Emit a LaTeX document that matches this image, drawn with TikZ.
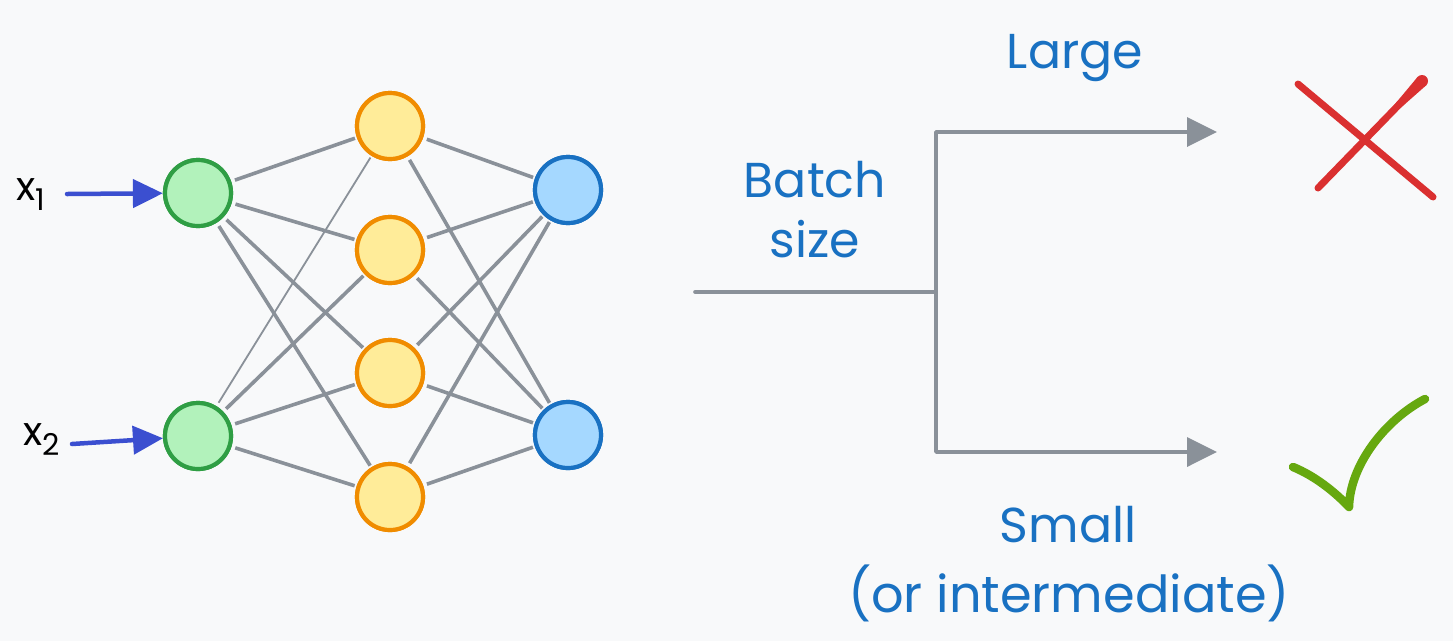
\documentclass[tikz,border=0pt]{standalone}
\usepackage{fontspec}
\setmainfont{Poppins}
\usetikzlibrary{arrows.meta}
\definecolor{bg}{HTML}{F8F9FA}
\definecolor{txtblue}{HTML}{1971C2}
\definecolor{edgegray}{HTML}{8A9199}
\definecolor{greenfill}{HTML}{B2F2BB}
\definecolor{greendraw}{HTML}{2F9E44}
\definecolor{yellowfill}{HTML}{FFEC99}
\definecolor{yellowdraw}{HTML}{F08C00}
\definecolor{bluefill}{HTML}{A5D8FF}
\definecolor{bluedraw}{HTML}{1971C2}
\definecolor{inarrow}{HTML}{3B4FD0}
\definecolor{crossred}{HTML}{DA3030}
\definecolor{checkgreen}{HTML}{66A80F}
\tikzset{
  neuron/.style={circle, minimum size=66pt, inner sep=0pt, line width=4.2pt},
  innode/.style={neuron, fill=greenfill, draw=greendraw},
  hidnode/.style={neuron, fill=yellowfill, draw=yellowdraw},
  outnode/.style={neuron, fill=bluefill, draw=bluedraw},
  nnedge/.style={draw=edgegray, line width=3.6pt, shorten <=4pt, shorten >=2pt},
  thinedge/.style={draw=edgegray, line width=1.8pt, shorten <=4pt, shorten >=2pt},
  inputarrow/.style={draw=inarrow, line width=4.5pt, line cap=round,
    -{Triangle[length=30pt,width=28pt]}},
  flow/.style={draw=edgegray, line width=3.6pt, line join=round, line cap=round},
  flowarrow/.style={flow, -{Triangle[length=30pt,width=29pt]}},
  lbl/.style={text=txtblue, font=\fontsize{49}{56}\selectfont, inner sep=0pt, anchor=base},
  xlbl/.style={text=black, inner sep=0pt, anchor=base west},
}
\begin{document}
\begin{tikzpicture}[x=1pt,y=-1pt]
\fill[bg] (0,0) rectangle (1453,641);
\useasboundingbox (0,0) rectangle (1453,641);

% neurons
\node[innode] (g1) at (198,193) {};
\node[innode] (g2) at (198,436) {};
\node[hidnode] (h1) at (390,126) {};
\node[hidnode] (h2) at (390,250) {};
\node[hidnode] (h3) at (390,373) {};
\node[hidnode] (h4) at (390,497) {};
\node[outnode] (o1) at (568,190) {};
\node[outnode] (o2) at (568,435) {};

% network edges
\draw[nnedge] (g1) -- (h1);
\draw[nnedge] (g1) -- (h2);
\draw[nnedge] (g1) -- (h3);
\draw[nnedge] (g1) -- (h4);
\draw[thinedge] (g2) -- (h1);
\draw[nnedge] (g2) -- (h2);
\draw[nnedge] (g2) -- (h3);
\draw[nnedge] (g2) -- (h4);
\foreach \h in {h1,h2,h3,h4}{
  \draw[nnedge] (\h) -- (o1);
  \draw[nnedge] (\h) -- (o2);
}

% redraw neurons on top of the edges
\node[innode] at (g1) {};
\node[innode] at (g2) {};
\foreach \n in {h1,h2,h3,h4}{\node[hidnode] at (\n) {};}
\node[outnode] at (o1) {};
\node[outnode] at (o2) {};

% inputs
\node[xlbl] (x1) at (16,200) {\fontsize{40}{44}\selectfont x\raisebox{-10pt}{\fontsize{30}{32}\selectfont 1}};
\node[xlbl] (x2) at (23,445) {\fontsize{40}{44}\selectfont x\raisebox{-10pt}{\fontsize{30}{32}\selectfont 2}};
\coordinate (a1) at (67,194);
\coordinate (a2) at (72,444);
\draw[inputarrow] (a1) -- (g1);
\draw[inputarrow] (a2) -- (g2);

% batch size decision
\coordinate (bs) at (695,292);
\coordinate (jn) at (936,292);
\coordinate (tl) at (1217,132);
\coordinate (bl) at (1217,452);
\draw[flow] (bs) -- (jn);
\draw[flowarrow] (jn) |- (tl);
\draw[flowarrow] (jn) |- (bl);

\node[lbl] (batch) at (815,197) {Batch};
\node[lbl] (size) at (815,257) {size};
\node[lbl] (large) at (1075,68) {Large};
\node[lbl] (small) at (1068,542) {Small};
\node[lbl, font=\fontsize{51}{56}\selectfont] (inter) at (1069,612) {(or intermediate)};

% cross
\draw[crossred, line width=7pt, line cap=round] (1298,84) -- (1433,197);
\draw[crossred, line width=7pt, line cap=round] (1318,188) -- (1422,81);
\fill[crossred] (1392.8,106.7) -- (1417.7,76.8) -- (1426.3,85.2) -- (1397.2,110.9) -- cycle;
\fill[crossred] (1422,81) circle[radius=6pt];

% check
\draw[checkgreen, line width=8.5pt, line cap=round, line join=round]
  (1293,467) .. controls (1315,476) and (1335,492) .. (1349,507)
  .. controls (1350,465) and (1385,420) .. (1425,399);
\end{tikzpicture}
\end{document}
